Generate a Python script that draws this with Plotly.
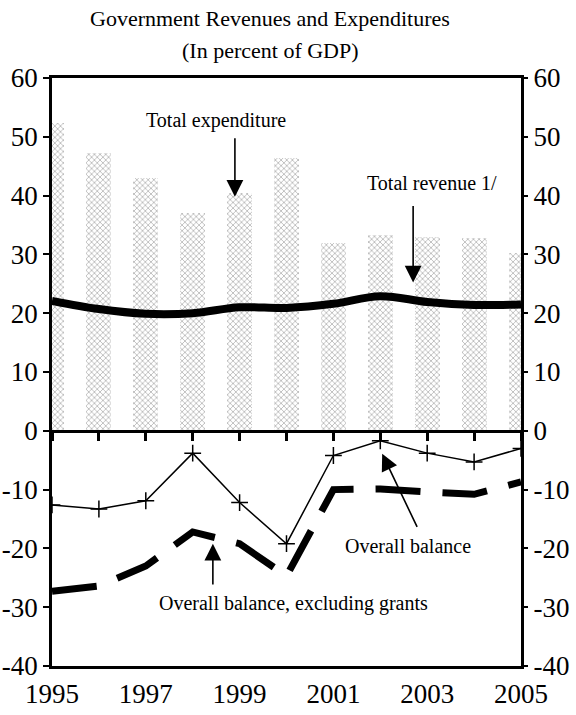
import plotly.graph_objects as go

years = [1995, 1996, 1997, 1998, 1999, 2000, 2001, 2002, 2003, 2004, 2005]
total_expenditure = [52.3, 47.3, 43.0, 37.0, 40.5, 46.4, 32.0, 33.3, 33.0, 32.8, 30.3]
total_revenue = [22.1, 20.7, 19.9, 20.0, 21.0, 20.9, 21.6, 22.9, 21.9, 21.4, 21.5]
overall_balance = [-12.6, -13.3, -11.9, -3.8, -12.2, -19.2, -4.2, -1.7, -3.8, -5.3, -3.0]
balance_excl_grants = [-27.3, -26.4, -23.0, -17.2, -19.2, -24.7, -10.0, -9.9, -10.4, -10.8, -8.7]
label_years = [1995, 1997, 1999, 2001, 2003, 2005]
y_ticks = [60, 50, 40, 30, 20, 10, 0, -10, -20, -30, -40]
y_ticktext = ["60", "50", "40", "30", "20", "10", "0", "-10", "-20", "-30", "-40"]

FONT = "Liberation Serif"

fig = go.Figure()

fig.add_trace(go.Bar(
    x=years, y=total_expenditure, width=0.53,
    marker=dict(color="white", line=dict(width=0),
                pattern=dict(shape="x", fgcolor="#7a7a7a", bgcolor="white",
                             size=4, solidity=0.4)),
    showlegend=False, hoverinfo="skip"))

fig.add_trace(go.Scatter(
    x=years, y=total_revenue, mode="lines",
    line=dict(color="black", width=8, shape="spline", smoothing=1),
    showlegend=False))

fig.add_trace(go.Scatter(
    x=years, y=balance_excl_grants, mode="lines",
    line=dict(color="black", width=7, dash="45px,22px"),
    showlegend=False))

fig.add_trace(go.Scatter(
    x=years, y=overall_balance, mode="lines+markers",
    line=dict(color="black", width=1.5),
    marker=dict(symbol="cross-thin", size=12, line=dict(color="black", width=1.5)),
    showlegend=False))

# invisible trace to activate the secondary axes (zero line ticks and right axis)
fig.add_trace(go.Scatter(
    x=years, y=total_revenue, xaxis="x2", yaxis="y2", mode="lines",
    line=dict(color="rgba(0,0,0,0)"), showlegend=False, hoverinfo="skip"))

ann_font = dict(family=FONT, size=20, color="black")
title_font = dict(family=FONT, size=22, color="black")
arrow_style = dict(showarrow=True, arrowhead=2, arrowsize=2.1, arrowwidth=1.6,
                   arrowcolor="black", axref="x", ayref="y", text="")
annotations = [
    dict(x=(270 - 52) / 469, y=1.102, xref="paper", yref="paper",
         text="Government Revenues and Expenditures",
         showarrow=False, font=title_font, xanchor="center", yanchor="middle"),
    dict(x=(270 - 52) / 469, y=1.0476, xref="paper", yref="paper", text="(In percent of GDP)",
         showarrow=False, font=title_font, xanchor="center", yanchor="middle"),
    dict(x=1998.5, y=52.7, text="Total expenditure", showarrow=False, font=ann_font),
    dict(x=1998.9, y=39.8, ax=1998.9, ay=50.0, **arrow_style),
    dict(x=2003.1, y=42.2, text="Total revenue 1/", showarrow=False, font=ann_font),
    dict(x=2002.7, y=25.2, ax=2002.7, ay=38.5, **arrow_style),
    dict(x=2002.6, y=-19.6, text="Overall balance", showarrow=False, font=ann_font),
    dict(x=2002.04, y=-3.9, ax=2002.8, ay=-16.6, **arrow_style),
    dict(x=2000.14, y=-29.4, text="Overall balance, excluding grants", showarrow=False,
         font=ann_font),
    dict(x=1998.43, y=-19.2, ax=1998.43, ay=-26.4, **arrow_style),
]

tick_font = dict(family=FONT, size=27, color="black")

fig.update_layout(
    width=576, height=715,
    margin=dict(l=52, r=55, t=78, b=49, autoexpand=False),
    paper_bgcolor="white", plot_bgcolor="white",
    bargap=0,
    xaxis=dict(range=[1995, 2005], tickvals=label_years, ticktext=[str(v) for v in label_years],
               ticks="outside", ticklen=2, tickcolor="rgba(0,0,0,0)",
               showline=True, linecolor="black", linewidth=2.5, mirror=True,
               showgrid=False, zeroline=False, tickfont=tick_font, automargin=False),
    xaxis2=dict(range=[1995, 2005], overlaying="x", anchor="free", position=0.4,
                side="bottom", tickvals=years, ticks="outside", ticklen=8, tickwidth=2.5,
                tickcolor="black", showticklabels=False, showline=True, linecolor="black",
                linewidth=3, showgrid=False, zeroline=False, automargin=False),
    yaxis=dict(range=[-40, 60], tickvals=y_ticks, ticktext=y_ticktext, ticks="outside",
               ticklen=6, tickwidth=2, tickcolor="black", showline=True, linecolor="black",
               linewidth=2.5, mirror=True, showgrid=False, zeroline=False,
               tickfont=tick_font, automargin=False),
    yaxis2=dict(range=[-40, 60], tickvals=y_ticks, ticktext=y_ticktext, overlaying="y",
                side="right", ticks="outside", ticklen=6, tickwidth=2, tickcolor="black",
                showline=False, showgrid=False, zeroline=False, tickfont=tick_font,
                automargin=False),
    annotations=annotations,
)

# remove the default 8px page margin so the figure fills the window exactly
fig.write_html("out.html",
               config={"displayModeBar": False},
               post_script="document.body.style.margin='0';document.body.style.padding='0';")
